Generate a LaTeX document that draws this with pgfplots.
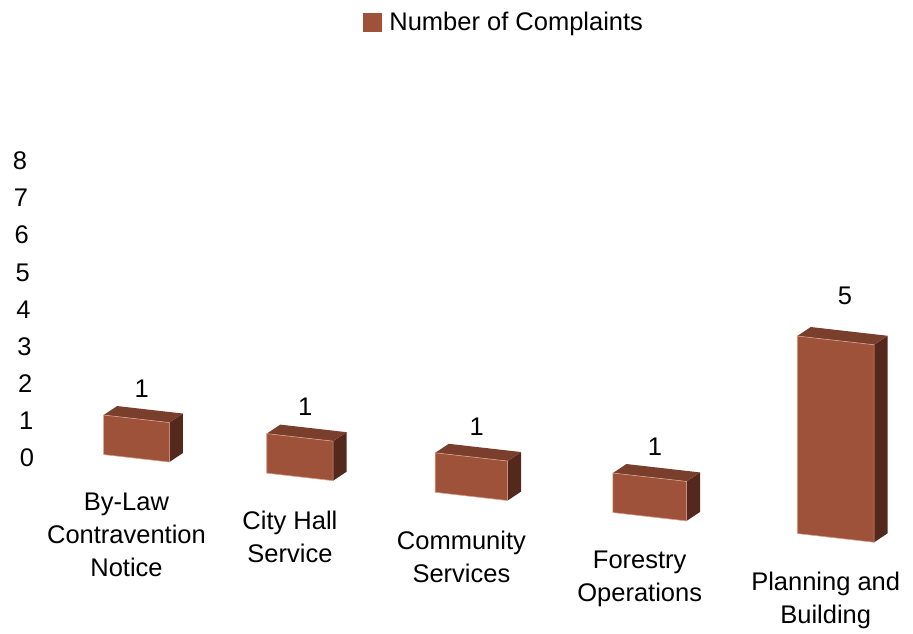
\documentclass[border=0pt]{standalone}
\usepackage{fontspec}
\setmainfont{Liberation Sans}
\usepackage{pgfplots}
\pgfplotsset{compat=1.18}
\definecolor{barfront}{RGB}{158,82,58}
\definecolor{bartop}{RGB}{122,62,44}
\definecolor{barside}{RGB}{84,40,28}
\definecolor{baredge}{RGB}{214,160,138}
\newcommand\cf{\fontsize{25.5}{33}\selectfont}
\begin{document}
\begin{tikzpicture}
\useasboundingbox (0,0) rectangle (913pt,634pt);
% helper axis: value scale and legend
\begin{axis}[at={(0pt,0pt)}, anchor=south west, x=1pt, y=1pt,
  xmin=0, xmax=913, ymin=0, ymax=634, enlargelimits=false,
  axis line style={draw=none}, tick style={draw=none}, xtick=\empty,
  ytick={176,213.1,250.3,287.4,324.5,361.6,398.8,435.9,473},
  yticklabels={0,1,2,3,4,5,6,7,8}, ytick pos=left,
  /pgf/number format/assume math mode=true,
  yticklabel style={anchor=center, xshift={27pt-0.875pt*\ticknum}, font=\cf},
  legend style={at={(0.552,0.9653)}, anchor=center, draw=none, fill=none, font=\cf},
  ]
\addlegendimage{legend image code/.code={\fill[barfront] (0pt,-9pt) rectangle (18pt,9pt); \path (24pt,0pt);}}
\addlegendentry{Number of Complaints}
\end{axis}
% 3D bars
\begin{axis}[at={(136.5pt,175.7pt)}, anchor=origin,
  x={(174.8pt,-19.9pt)}, y={(13.5pt,9pt)}, z={(0pt,39.5pt)},
  xmin=-0.5, xmax=4.5, ymin=0, ymax=1, zmin=0, zmax=8,
  hide axis, clip=false, no markers,
  /pgf/number format/assume math mode=true,
  front/.style={fill=barfront, draw=baredge, line width=0.6pt},
  top/.style={fill=bartop, draw=none},
  side/.style={fill=barside, draw=none},
  ]
% By-Law Contravention Notice: 1
\addplot3[side] coordinates {(0.188,0,0) (0.188,1,0) (0.188,1,1) (0.188,0,1)} --cycle;
\addplot3[top] coordinates {(-0.188,0,1) (0.188,0,1) (0.188,1,1) (-0.188,1,1)} --cycle;
\addplot3[front] coordinates {(-0.188,0,0) (0.188,0,0) (0.188,0,1) (-0.188,0,1)} --cycle;
% City Hall Service: 1
\addplot3[side] coordinates {(1.125,0,0) (1.125,1,0) (1.125,1,1) (1.125,0,1)} --cycle;
\addplot3[top] coordinates {(0.745,0,1) (1.125,0,1) (1.125,1,1) (0.745,1,1)} --cycle;
\addplot3[front] coordinates {(0.745,0,0) (1.125,0,0) (1.125,0,1) (0.745,0,1)} --cycle;
% Community Services: 1
\addplot3[side] coordinates {(2.123,0,0) (2.123,1,0) (2.123,1,1) (2.123,0,1)} --cycle;
\addplot3[top] coordinates {(1.709,0,1) (2.123,0,1) (2.123,1,1) (1.709,1,1)} --cycle;
\addplot3[front] coordinates {(1.709,0,0) (2.123,0,0) (2.123,0,1) (1.709,0,1)} --cycle;
% Forestry Operations: 1
\addplot3[side] coordinates {(3.147,0,0) (3.147,1,0) (3.147,1,1) (3.147,0,1)} --cycle;
\addplot3[top] coordinates {(2.725,0,1) (3.147,0,1) (3.147,1,1) (2.725,1,1)} --cycle;
\addplot3[front] coordinates {(2.725,0,0) (3.147,0,0) (3.147,0,1) (2.725,0,1)} --cycle;
% Planning and Building: 5
\addplot3[side] coordinates {(4.22,0,0) (4.22,1,0) (4.22,1,5) (4.22,0,5)} --cycle;
\addplot3[top] coordinates {(3.78,0,5) (4.22,0,5) (4.22,1,5) (3.78,1,5)} --cycle;
\addplot3[front] coordinates {(3.78,0,0) (4.22,0,0) (4.22,0,5) (3.78,0,5)} --cycle;
% value labels
\addplot3[draw=none, point meta=z, nodes near coords,
  nodes near coords style={anchor=center, font=\cf, xshift=-1.5pt, yshift=26pt}]
  coordinates {(0,0.5,1) (0.935,0.5,1) (1.916,0.5,1) (2.936,0.5,1)};
\addplot3[draw=none, point meta=z, nodes near coords,
  nodes near coords style={anchor=center, font=\cf, xshift=2.5pt, yshift=40pt}]
  coordinates {(4,0.5,5)};
% category labels
\tikzset{cat/.style={anchor=north, align=center, inner sep=0pt, font=\cf, xshift=-10pt, yshift=-34pt}}
\node[cat] at (axis cs:0,0,0) {By-Law\\Contravention\\Notice};
\node[cat] at (axis cs:0.935,0,0) {City Hall\\Service};
\node[cat] at (axis cs:1.916,0,0) {Community\\Services};
\node[cat] at (axis cs:2.936,0,0) {Forestry\\Operations};
\node[cat] at (axis cs:4,0,0) {Planning and\\Building};
\end{axis}
\end{tikzpicture}
\end{document}
